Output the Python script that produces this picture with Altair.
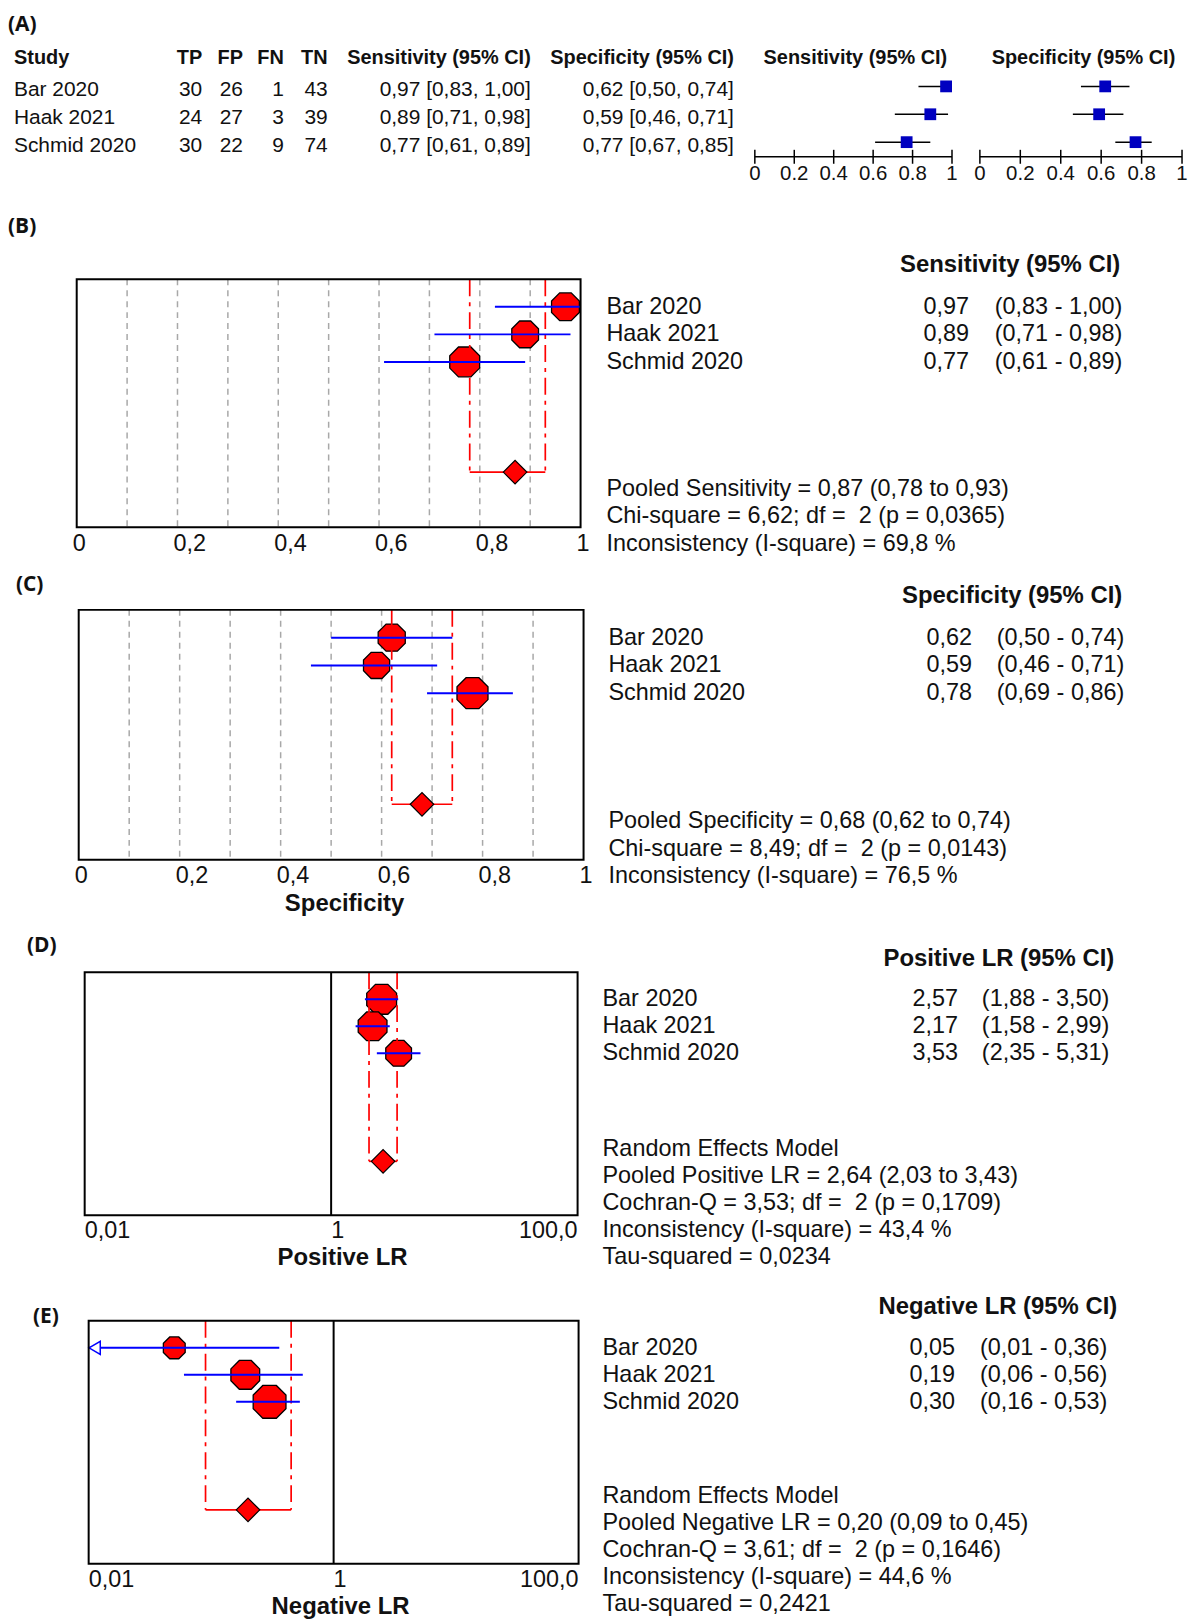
import altair as alt
import pandas as pd

FONT = "Liberation Sans"
PFONT = "Open Sans"
INK = "#111111"

# ---------------- data ----------------
studies = ["Bar 2020", "Haak 2021", "Schmid 2020"]
tp = [30, 24, 30]
fp = [26, 27, 22]
fn = [1, 3, 9]
tn = [43, 39, 74]

sens_est = [0.97, 0.89, 0.77]
sens_lo = [0.83, 0.71, 0.61]
sens_hi = [1.00, 0.98, 0.89]

spec_a_est = [0.62, 0.59, 0.77]
spec_a_lo = [0.50, 0.46, 0.67]
spec_a_hi = [0.74, 0.71, 0.85]

spec_est = [0.62, 0.59, 0.78]
spec_lo = [0.50, 0.46, 0.69]
spec_hi = [0.74, 0.71, 0.86]

plr_est = [2.57, 2.17, 3.53]
plr_lo = [1.88, 1.58, 2.35]
plr_hi = [3.50, 2.99, 5.31]

nlr_est = [0.05, 0.19, 0.30]
nlr_lo = [0.01, 0.06, 0.16]
nlr_hi = [0.36, 0.56, 0.53]

# study weights (%), shown as marker size
sens_w = [32.5, 30.0, 37.5]
spec_w = [30.9, 28.7, 40.4]
plr_w = [37.4, 34.8, 27.8]
nlr_w = [20.0, 34.8, 45.2]

# pooled estimate, lower, upper
sens_pooled = [0.87, 0.78, 0.93]
spec_pooled = [0.68, 0.62, 0.74]
plr_pooled = [2.64, 2.03, 3.43]
nlr_pooled = [0.20, 0.09, 0.45]

NB = "\u00a0"
sens_stats = ["Pooled Sensitivity = 0,87 (0,78 to 0,93)",
              f"Chi-square = 6,62; df ={NB} 2 (p = 0,0365)",
              "Inconsistency (I-square) = 69,8 %"]
spec_stats = ["Pooled Specificity = 0,68 (0,62 to 0,74)",
              f"Chi-square = 8,49; df ={NB} 2 (p = 0,0143)",
              "Inconsistency (I-square) = 76,5 %"]
plr_stats = ["Random Effects Model",
             "Pooled Positive LR = 2,64 (2,03 to 3,43)",
             f"Cochran-Q = 3,53; df ={NB} 2 (p = 0,1709)",
             "Inconsistency (I-square) = 43,4 %",
             "Tau-squared = 0,0234"]
nlr_stats = ["Random Effects Model",
             "Pooled Negative LR = 0,20 (0,09 to 0,45)",
             f"Cochran-Q = 3,61; df ={NB} 2 (p = 0,1646)",
             "Inconsistency (I-square) = 44,6 %",
             "Tau-squared = 0,2421"]

forest_ticks = [0, 0.2, 0.4, 0.6, 0.8, 1]
forest_tick_labels = ["0", "0.2", "0.4", "0.6", "0.8", "1"]
prop_ticks = [0, 0.2, 0.4, 0.6, 0.8, 1]
prop_tick_labels = ["0", "0,2", "0,4", "0,6", "0,8", "1"]
prop_grid = [0.1, 0.2, 0.3, 0.4, 0.5, 0.6, 0.7, 0.8, 0.9]
lr_ticks = [0.01, 1, 100]
lr_tick_labels = ["0,01", "1", "100,0"]

OCT = "M-0.414,-1L0.414,-1L1,-0.414L1,0.414L0.414,1L-0.414,1L-1,0.414L-1,-0.414Z"
VTICK = "M0,-1L0,1"


def fmt(v):
    return f"{v:.2f}".replace(".", ",")


def sc(dom, rng, log=False):
    kw = dict(domain=dom, range=rng, nice=False)
    if log:
        kw["type"] = "log"
    else:
        kw["zero"] = False
    return alt.Scale(**kw)


ONE = pd.DataFrame({"k": [0]})
layers = []


def label(txt, x, y, align="left", size=23.5, bold=False, font=FONT):
    return alt.Chart(ONE).mark_text(
        text=txt, align=align, baseline="middle", font=font, fontSize=size,
        fontWeight="bold" if bold else "normal", color=INK
    ).encode(x=alt.value(x), y=alt.value(y))


# ---------------- (A) table + mini forests ----------------
yA = sc([0, 4], [47.3, 159.3])
dfA = pd.DataFrame({
    "study": studies, "row": [1, 2, 3], "tp": tp, "fp": fp, "fn": fn, "tn": tn,
    "sens_txt": [f"{fmt(e)} [{fmt(l)}, {fmt(h)}]" for e, l, h in zip(sens_est, sens_lo, sens_hi)],
    "spec_txt": [f"{fmt(e)} [{fmt(l)}, {fmt(h)}]" for e, l, h in zip(spec_a_est, spec_a_lo, spec_a_hi)],
    "se": sens_est, "se_lo": sens_lo, "se_hi": sens_hi,
    "sp": spec_a_est, "sp_lo": spec_a_lo, "sp_hi": spec_a_hi,
})

layers.append(label("(A)", 0, 14, size=21, bold=True, font=PFONT))
for txt, x, al in [("Study", 6, "left"), ("TP", 195, "right"), ("FP", 236, "right"),
                   ("FN", 277, "right"), ("TN", 321, "right"),
                   ("Sensitivity (95% CI)", 525, "right"), ("Specificity (95% CI)", 729, "right"),
                   ("Sensitivity (95% CI)", 851, "center"), ("Specificity (95% CI)", 1080, "center")]:
    layers.append(label(txt, x, 47, align=al, size=20, bold=True))

for field, x, al in [("study:N", 6, "left"), ("tp:Q", 195, "right"), ("fp:Q", 236, "right"),
                     ("fn:Q", 277, "right"), ("tn:Q", 321, "right"),
                     ("sens_txt:N", 525, "right"), ("spec_txt:N", 729, "right")]:
    layers.append(alt.Chart(dfA).mark_text(align=al, baseline="middle", font=FONT, fontSize=21,
                                           dy=4, color=INK).encode(
        x=alt.value(x), y=alt.Y("row:Q", scale=yA, axis=None), text=field))

dft = pd.DataFrame({"t": forest_ticks, "lab": forest_tick_labels})
for pre, rng in [("se", [750, 948]), ("sp", [976, 1179])]:
    xsc = sc([0, 1], rng)
    layers.append(alt.Chart(dfA).mark_rule(color="black", strokeWidth=1.5).encode(
        x=alt.X(f"{pre}_lo:Q", scale=xsc, axis=None), x2=f"{pre}_hi:Q",
        y=alt.Y("row:Q", scale=yA, axis=None)))
    layers.append(alt.Chart(dfA).mark_point(shape="square", filled=True, color="#0000C0",
                                            size=140, opacity=1).encode(
        x=alt.X(f"{pre}:Q", scale=xsc, axis=None), y=alt.Y("row:Q", scale=yA, axis=None)))
    layers.append(alt.Chart(ONE).mark_rule(color="black", strokeWidth=1.5).encode(
        x=alt.XDatum(0, scale=xsc, axis=None), x2=alt.X2Datum(1),
        y=alt.YDatum(3.525, scale=yA, axis=None)))
    layers.append(alt.Chart(dft).mark_point(shape=VTICK, size=196, filled=False, color="black",
                                           strokeWidth=1.5, opacity=1).encode(
        x=alt.X("t:Q", scale=xsc, axis=None), y=alt.YDatum(3.525, scale=yA, axis=None)))
    layers.append(alt.Chart(dft).mark_text(align="center", baseline="middle", font=FONT,
                                           fontSize=20.5, color=INK).encode(
        x=alt.X("t:Q", scale=xsc, axis=None), y=alt.YDatum(4.13, scale=yA, axis=None),
        text="lab:N"))


# ---------------- forest panels (B)-(E) ----------------
def panel(tag, tag_pos, est, lo, hi, w, pooled, stats, stats_start, header, xdom, xrng, yrng,
          log, ticks, tick_labels, grid, text_x, title=None, title_x=None):
    name_x, val_x, ci_x, head_x = text_x
    xsc = sc(xdom, xrng, log)
    ysc = sc([0, 9], yrng)

    def X(f):
        return alt.X(f, scale=xsc, axis=None)

    def XD(v):
        return alt.XDatum(v, scale=xsc, axis=None)

    def Y(f):
        return alt.Y(f, scale=ysc, axis=None)

    def YD(v):
        return alt.YDatum(v, scale=ysc, axis=None)

    df = pd.DataFrame({"study": studies, "row": [1, 2, 3], "est": est, "lo": lo, "hi": hi, "w": w,
                       "val": [fmt(v) for v in est],
                       "ci": [f"({fmt(l)} - {fmt(h)})" for l, h in zip(lo, hi)]})
    out = []
    out.append(label(tag, tag_pos[0], tag_pos[1], size=21, bold=True, font=PFONT))
    if grid is not None:
        out.append(alt.Chart(pd.DataFrame({"g": grid})).mark_rule(
            color="#a8a8a8", strokeWidth=1.5, strokeDash=[6, 5]).encode(
            x=X("g:Q"), y=YD(0), y2=alt.Y2Datum(9)))
    else:
        out.append(alt.Chart(ONE).mark_rule(color="black", strokeWidth=2).encode(
            x=XD(1), y=YD(0), y2=alt.Y2Datum(9)))
    # study markers
    out.append(alt.Chart(df).mark_point(shape=OCT, filled=True, fill="#FF0000", stroke="black",
                                        strokeWidth=1.3, opacity=1).encode(
        x=X("est:Q"), y=Y("row:Q"),
        size=alt.Size("w:Q", scale=alt.Scale(domain=[0, 100], range=[0, 2400]), legend=None)))
    # pooled CI dashed verticals + bracket + diamond
    dfp = pd.DataFrame({"est": [pooled[0]], "lo": [pooled[1]], "hi": [pooled[2]]})
    out.append(alt.Chart(pd.DataFrame({"v": pooled[1:]})).mark_rule(
        color="#FF0000", strokeWidth=1.7, strokeDash=[17, 6, 4, 6]).encode(
        x=X("v:Q"), y=YD(0), y2=alt.Y2Datum(7)))
    out.append(alt.Chart(dfp).mark_rule(color="#FF0000", strokeWidth=1.7).encode(
        x=X("lo:Q"), x2="hi:Q", y=YD(7)))
    out.append(alt.Chart(dfp).mark_point(shape="diamond", filled=True, fill="#FF0000",
                                         stroke="black", strokeWidth=1.2, size=560,
                                         opacity=1).encode(x=X("est:Q"), y=YD(7)))
    # study CIs
    out.append(alt.Chart(df).mark_rule(color="#0000FF", strokeWidth=2).encode(
        x=X("lo:Q"), x2="hi:Q", y=Y("row:Q")))
    # truncated CI arrow
    out.append(alt.Chart(df).transform_filter(f"datum.lo <= {xdom[0]}").mark_point(
        shape="triangle-left", filled=True, fill="white", stroke="#0000FF", strokeWidth=1.5,
        size=170, xOffset=6, opacity=1).encode(x=X("lo:Q"), y=Y("row:Q")))
    # box
    out.append(alt.Chart(ONE).mark_rect(fillOpacity=0, stroke="black", strokeWidth=2).encode(
        x=XD(xdom[0]), x2=alt.X2Datum(xdom[1]), y=YD(0), y2=alt.Y2Datum(9)))
    # tick labels
    dft = pd.DataFrame({"t": ticks, "lab": tick_labels})
    if log:
        out.append(alt.Chart(dft.iloc[:-1]).mark_text(
            align="left", baseline="middle", font=FONT, fontSize=23.5, color=INK).encode(
            x=X("t:Q"), y=YD(9.6), text="lab:N"))
        out.append(alt.Chart(dft.iloc[-1:]).mark_text(
            align="right", baseline="middle", font=FONT, fontSize=23.5, color=INK).encode(
            x=X("t:Q"), y=YD(9.6), text="lab:N"))
    else:
        out.append(alt.Chart(dft).mark_text(
            align="left", baseline="middle", font=FONT, fontSize=23.5, dx=-4, color=INK).encode(
            x=X("t:Q"), y=YD(9.6), text="lab:N"))
    if title:
        out.append(alt.Chart(ONE).mark_text(
            text=title, align="center", baseline="middle", font=FONT, fontSize=24,
            fontWeight="bold", color=INK).encode(x=alt.value(title_x), y=YD(10.6)))
    # right-hand text table
    out.append(alt.Chart(ONE).mark_text(
        text=header, align="right", baseline="middle", font=FONT, fontSize=24,
        fontWeight="bold", color=INK).encode(x=alt.value(head_x), y=YD(-0.5)))
    for field, x, al in [("study:N", name_x, "left"), ("val:N", val_x, "right"),
                         ("ci:N", ci_x, "left")]:
        out.append(alt.Chart(df).mark_text(align=al, baseline="middle", font=FONT,
                                           fontSize=23.5, color=INK).encode(
            x=alt.value(x), y=Y("row:Q"), text=field))
    dfs = pd.DataFrame({"line": stats, "pos": [stats_start + i for i in range(len(stats))]})
    out.append(alt.Chart(dfs).mark_text(align="left", baseline="middle", font=FONT,
                                        fontSize=23.5, color=INK).encode(
        x=alt.value(name_x), y=Y("pos:Q"), text="line:N"))
    return out


layers += panel("(B)", (0, 217), sens_est, sens_lo, sens_hi, sens_w, sens_pooled, sens_stats, 7.6,
                "Sensitivity (95% CI)", [0, 1], [69, 575], [269, 518], False,
                prop_ticks, prop_tick_labels, prop_grid, (601, 965, 991, 1117))
layers += panel("(C)", (8, 576), spec_est, spec_lo, spec_hi, spec_w, spec_pooled, spec_stats, 7.6,
                "Specificity (95% CI)", [0, 1], [71, 578], [601, 852], False,
                prop_ticks, prop_tick_labels, prop_grid, (603, 968, 993, 1119),
                title="Specificity", title_x=338)
layers += panel("(D)", (19, 939), plr_est, plr_lo, plr_hi, plr_w, plr_pooled, plr_stats, 6.55,
                "Positive LR (95% CI)", [0.01, 100], [77, 572], [965, 1209], True,
                lr_ticks, lr_tick_labels, None, (597, 954, 978, 1111),
                title="Positive LR", title_x=336)
layers += panel("(E)", (25, 1311), nlr_est, nlr_lo, nlr_hi, nlr_w, nlr_pooled, nlr_stats, 6.5,
                "Negative LR (95% CI)", [0.01, 100], [81, 573], [1315, 1559], True,
                lr_ticks, lr_tick_labels, None, (597, 951, 976, 1114),
                title="Negative LR", title_x=334)

chart = alt.layer(*layers).resolve_scale(x="independent", y="independent").properties(
    width=1180, height=1600, padding=0
).configure(background="white").configure_view(stroke=None)

chart.save("out.html", embed_options={"renderer": "svg", "actions": False})
